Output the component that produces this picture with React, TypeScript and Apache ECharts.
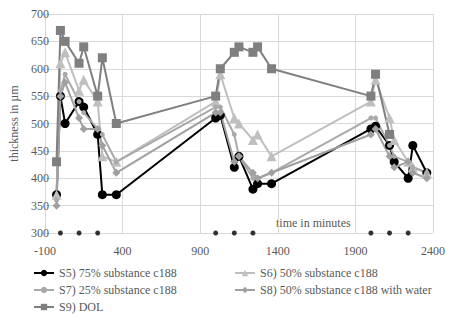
import React, { useEffect, useRef } from "react";
import * as echarts from "echarts";

const times = [-25, 0, 30, 120, 150, 240, 270, 360, 1000, 1030, 1120, 1150, 1240, 1270, 1360, 2000, 2030, 2120, 2150, 2240, 2270, 2360];

const s5 = [370, 550, 500, 540, 530, 480, 370, 370, 510, 515, 420, 440, 380, 390, 390, 490, 495, 460, 430, 400, 460, 410];
const s6 = [370, 610, 630, 560, 580, 540, 440, 430, 540, 590, 510, 500, 470, 480, 440, 540, 580, 510, 470, 430, 420, 410];
const s7 = [360, 560, 590, 540, 520, 490, 480, 430, 530, 530, 480, 440, 400, 400, 410, 510, 510, 460, 440, 430, 420, 410];
const s8 = [350, 550, 575, 510, 490, 490, 460, 410, 520, 520, 430, 440, 410, 400, 410, 480, 490, 440, 420, 430, 410, 400];
const s9 = [430, 670, 650, 610, 640, 550, 620, 500, 550, 600, 630, 640, 630, 640, 600, 550, 590, 480, null, null, null, null];

const markTimes = [0, 120, 240, 1000, 1120, 1240, 2000, 2120, 2240];
const markLevel = 300;

const seriesNames = [
  "S5) 75% substance c188",
  "S6) 50% substance c188",
  "S7) 25% substance c188",
  "S8) 50% substance c188 with water",
  "S9) DOL",
];

const FONT = "Liberation Serif";
const TEXT_COLOR = "#595959";

function pairs(vals: (number | null)[]) {
  return times.map((t, i) => [t, vals[i]]);
}

export default function App() {
  const ref = useRef<HTMLDivElement>(null);
  useEffect(() => {
    if (!ref.current) return;
    const chart = echarts.init(ref.current, undefined, { renderer: "svg" });
    const mk = (name: string, vals: (number | null)[], color: string, symbol: string, size: number) => ({
      name,
      type: "line",
      data: pairs(vals),
      symbol,
      symbolSize: size,
      showSymbol: true,
      connectNulls: false,
      lineStyle: { color, width: 2 },
      itemStyle: { color, borderWidth: 0 },
      emphasis: { disabled: true },
    });
    chart.setOption({
      animation: false,
      backgroundColor: "#ffffff",
      textStyle: { fontFamily: FONT },
      grid: { left: 36, right: 22, top: 14, bottom: 89, containLabel: false },
      xAxis: {
        type: "value",
        min: -100,
        max: 2400,
        interval: 500,
        axisLine: { show: false },
        axisTick: { show: false },
        splitLine: { show: true, lineStyle: { color: "#d9d9d9", width: 1 } },
        axisLabel: {
          color: TEXT_COLOR,
          fontSize: 12,
          fontFamily: FONT,
          margin: 12,
          formatter: (v: number) => String(v),
        },
      },
      yAxis: {
        type: "value",
        min: 300,
        max: 700,
        interval: 50,
        name: "thickness in µm",
        nameLocation: "middle",
        nameGap: 24,
        nameTextStyle: { color: TEXT_COLOR, fontSize: 12, fontFamily: FONT },
        axisLine: { show: false },
        axisTick: { show: false },
        splitLine: { show: true, lineStyle: { color: "#d9d9d9", width: 1 } },
        axisLabel: {
          color: TEXT_COLOR,
          fontSize: 12,
          fontFamily: FONT,
          margin: -4,
          formatter: (v: number) => String(v),
        },
      },
      legend: [
        {
          orient: "vertical",
          left: 28,
          top: 262,
          itemWidth: 20,
          itemHeight: 8,
          itemGap: 5,
          data: [seriesNames[0], seriesNames[2], seriesNames[4]],
          textStyle: { color: TEXT_COLOR, fontSize: 12, fontFamily: FONT },
        },
        {
          orient: "vertical",
          left: 229,
          top: 262,
          itemWidth: 20,
          itemHeight: 8,
          itemGap: 5,
          data: [seriesNames[1], seriesNames[3]],
          textStyle: { color: TEXT_COLOR, fontSize: 12, fontFamily: FONT },
        },
      ],
      graphic: [
        {
          type: "text",
          left: 276,
          top: 217,
          style: {
            text: "time in minutes",
            fill: TEXT_COLOR,
            fontSize: 12,
            fontFamily: FONT,
            backgroundColor: "#ffffff",
          },
        },
      ],
      series: [
        mk(seriesNames[0], s5, "#000000", "circle", 9),
        mk(seriesNames[1], s6, "#bfbfbf", "triangle", 10),
        mk(seriesNames[2], s7, "#a9a9a9", "circle", 5),
        mk(seriesNames[3], s8, "#a0a0a0", "diamond", 8),
        mk(seriesNames[4], s9, "#7f7f7f", "rect", 9),
        {
          name: "marks",
          type: "scatter",
          data: markTimes.map((t) => [t, markLevel]),
          symbol: "circle",
          symbolSize: 5,
          itemStyle: { color: "#000000" },
          z: 5,
          emphasis: { disabled: true },
        },
      ],
    });
    return () => chart.dispose();
  }, []);
  return (
    <div
      ref={ref}
      style={{ position: "fixed", left: 0, top: 0, width: 455, height: 322, background: "#fff" }}
    />
  );
}
